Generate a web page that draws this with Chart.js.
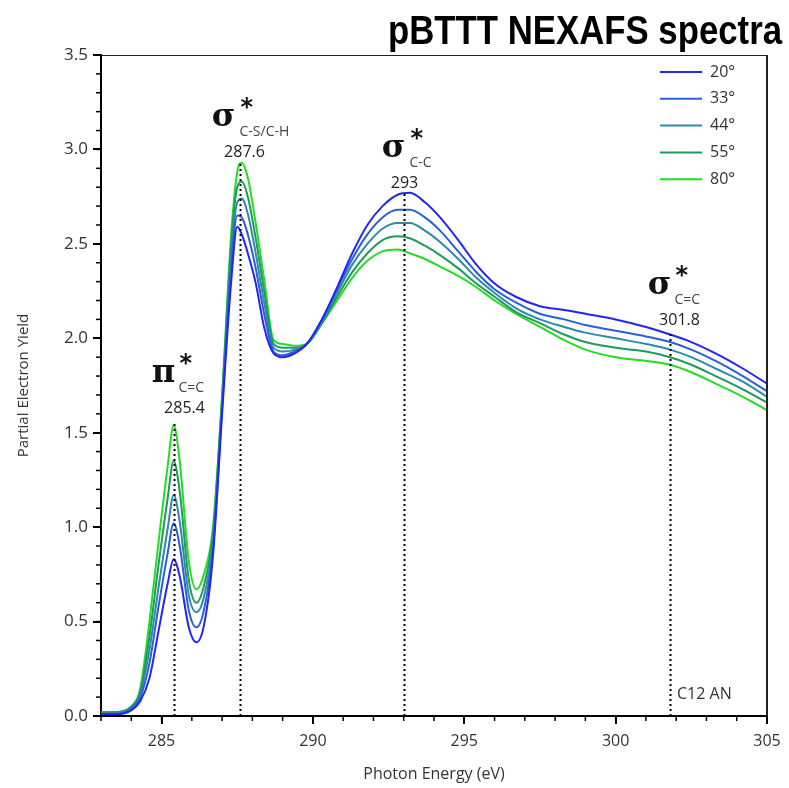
<!DOCTYPE html>
<html>
<head>
<meta charset="utf-8">
<script src="https://cdn.jsdelivr.net/npm/chart.js@4.4.1/dist/chart.umd.min.js"></script>
<style>
  html, body { margin: 0; padding: 0; background: #fff; }
  #wrap { width: 789px; height: 788px; }
</style>
</head>
<body>
<div id="wrap"><canvas id="chart" width="789" height="788"></canvas></div>
<script>
// photon energy (eV)
const energy = [283.0, 283.5, 284.0, 284.3, 284.6, 284.9, 285.2, 285.4, 285.6, 285.9,
  286.15, 286.4, 286.7, 287.0, 287.3, 287.5, 287.65, 287.85, 288.1, 288.4,
  288.7, 289.0, 289.4, 289.8, 290.3, 290.8, 291.3, 291.8, 292.3, 292.8,
  293.2, 293.7, 294.2, 294.8, 295.4, 296.0, 296.7, 297.5, 298.3, 299.0,
  300.0, 301.0, 301.8, 302.5, 303.3, 304.2, 305.0];

const pey20 = [0.01, 0.01, 0.03, 0.08, 0.20, 0.45, 0.70, 0.83, 0.74, 0.47,
  0.39, 0.48, 0.85, 1.60, 2.30, 2.59, 2.55, 2.45, 2.30, 2.05,
  1.92, 1.90, 1.92, 1.97, 2.10, 2.27, 2.45, 2.60, 2.70, 2.76,
  2.77, 2.72, 2.64, 2.52, 2.39, 2.29, 2.22, 2.17, 2.15, 2.13,
  2.10, 2.06, 2.02, 1.98, 1.92, 1.84, 1.76];

const pey33 = [0.01, 0.01, 0.04, 0.10, 0.28, 0.58, 0.86, 1.02, 0.90, 0.56,
  0.47, 0.56, 0.89, 1.63, 2.38, 2.65, 2.64, 2.55, 2.38, 2.12,
  1.93, 1.91, 1.93, 1.97, 2.10, 2.26, 2.42, 2.55, 2.64, 2.68,
  2.68, 2.64, 2.57, 2.46, 2.35, 2.26, 2.19, 2.13, 2.10, 2.07,
  2.04, 2.01, 1.98, 1.94, 1.88, 1.80, 1.72];

const pey44 = [0.01, 0.02, 0.04, 0.12, 0.35, 0.68, 0.99, 1.17, 1.03, 0.64,
  0.55, 0.63, 0.93, 1.65, 2.44, 2.72, 2.74, 2.66, 2.46, 2.18,
  1.95, 1.93, 1.94, 1.97, 2.09, 2.24, 2.39, 2.50, 2.58, 2.61,
  2.61, 2.57, 2.51, 2.42, 2.32, 2.24, 2.16, 2.10, 2.06, 2.03,
  2.00, 1.97, 1.94, 1.90, 1.84, 1.77, 1.69];

const pey55 = [0.02, 0.02, 0.05, 0.13, 0.42, 0.80, 1.15, 1.35, 1.19, 0.72,
  0.60, 0.69, 0.97, 1.68, 2.50, 2.80, 2.83, 2.75, 2.54, 2.24,
  1.97, 1.95, 1.95, 1.97, 2.08, 2.22, 2.35, 2.45, 2.52, 2.54,
  2.53, 2.49, 2.44, 2.37, 2.29, 2.22, 2.14, 2.08, 2.02, 1.98,
  1.95, 1.93, 1.90, 1.86, 1.80, 1.73, 1.66];

const pey80 = [0.02, 0.02, 0.05, 0.15, 0.50, 0.92, 1.32, 1.54, 1.35, 0.82,
  0.67, 0.75, 1.00, 1.70, 2.55, 2.88, 2.93, 2.85, 2.62, 2.30,
  1.99, 1.97, 1.96, 1.97, 2.08, 2.20, 2.32, 2.41, 2.46, 2.47,
  2.45, 2.42, 2.38, 2.33, 2.27, 2.20, 2.13, 2.06, 1.99, 1.94,
  1.90, 1.88, 1.86, 1.82, 1.76, 1.69, 1.62];

const angleLabels = ['20°', '33°', '44°', '55°', '80°'];
const angleColors = ['#2424f4', '#2a5fd6', '#2f8aa6', '#1f9a5c', '#22dd22'];
const allSeries = [pey20, pey33, pey44, pey55, pey80];

const xTicks = [285, 290, 295, 300, 305];
const yTicks = [0, 0.5, 1.0, 1.5, 2.0, 2.5, 3.0, 3.5];

// resonance markers: energy, top of dotted line, and label texts
const peakEnergy = [285.4, 287.6, 293, 301.8];
const peakTop = [1.55, 2.93, 2.77, 2.02];
const peakGreek = ['π', 'σ', 'σ', 'σ'];
const peakSub = ['C=C', 'C-S/C-H', 'C-C', 'C=C'];
const peakText = ['285.4', '287.6', '293', '301.8'];
// label placement, pixels relative to the marker line
const greekDx = [-11, -17, -11, -11];
const subDx = [4, -1, 5, 4];
const numDx = [10, 4, 0, 9];
const numY = [408, 152, 183, 320];

const tickFont = { family: 'Open Sans', size: 16 };
const textColor = '#333';

const decor = {
  id: 'decor',
  afterDraw(chart) {
    const ctx = chart.ctx;
    const a = chart.chartArea;
    const xs = chart.scales.x, ys = chart.scales.y;
    ctx.save();

    // top and right frame
    ctx.strokeStyle = '#222';
    ctx.lineWidth = 1;
    ctx.beginPath();
    ctx.moveTo(a.left, a.top + 0.5);
    ctx.lineTo(a.right, a.top + 0.5);
    ctx.stroke();
    ctx.lineWidth = 2;
    ctx.beginPath();
    ctx.moveTo(a.right, a.top);
    ctx.lineTo(a.right, a.bottom);
    ctx.stroke();

    // minor ticks
    ctx.strokeStyle = '#000';
    ctx.lineWidth = 1.5;
    for (let v = 283; v <= 305; v++) {
      const px = xs.getPixelForValue(v);
      ctx.beginPath();
      ctx.moveTo(px, a.bottom);
      ctx.lineTo(px, a.bottom + 5);
      ctx.stroke();
    }
    for (let i = 0; i <= 35; i++) {
      const py = ys.getPixelForValue(i / 10);
      ctx.beginPath();
      ctx.moveTo(a.left, py);
      ctx.lineTo(a.left - 5, py);
      ctx.stroke();
    }

    // dotted marker lines and labels
    peakEnergy.forEach((e, i) => {
      const px = Math.round(xs.getPixelForValue(e)) + 0.5;
      ctx.strokeStyle = '#000';
      ctx.lineWidth = 2;
      ctx.setLineDash([2, 3]);
      ctx.beginPath();
      ctx.moveTo(px, a.bottom);
      ctx.lineTo(px, ys.getPixelForValue(peakTop[i]));
      ctx.stroke();
      ctx.setLineDash([]);

      const ny = numY[i];
      ctx.fillStyle = '#222';
      ctx.textAlign = 'center';
      ctx.textBaseline = 'middle';
      ctx.font = '16px "Open Sans"';
      ctx.fillText(peakText[i], px + numDx[i], ny);

      ctx.fillStyle = '#111';
      ctx.font = 'bold 32px "DejaVu Serif"';
      ctx.fillText(peakGreek[i], px + greekDx[i], ny - 34);
      ctx.font = 'bold 24px "DejaVu Sans"';
      ctx.textAlign = 'left';
      ctx.fillText('*', px + subDx[i] + 1, ny - 43);
      ctx.fillStyle = '#444';
      ctx.font = '14px "Open Sans"';
      ctx.fillText(peakSub[i], px + subDx[i], ny - 20);
    });

    // legend
    ctx.textAlign = 'left';
    ctx.textBaseline = 'middle';
    ctx.font = '16px "Open Sans"';
    angleLabels.forEach((lab, i) => {
      const y = 72 + i * 26.8;
      ctx.strokeStyle = angleColors[i];
      ctx.lineWidth = 2;
      ctx.beginPath();
      ctx.moveTo(660, y);
      ctx.lineTo(702, y);
      ctx.stroke();
      ctx.fillStyle = textColor;
      ctx.fillText(lab, 710, y);
    });

    ctx.fillStyle = textColor;
    ctx.fillText('C12 AN', 677, 694);

    // title: condensed bold sans, squeezed to the reference width
    const title = 'pBTTT NEXAFS spectra';
    ctx.fillStyle = '#000';
    ctx.textAlign = 'left';
    ctx.textBaseline = 'alphabetic';
    ctx.font = 'bold 40px "Liberation Sans"';
    const w = ctx.measureText(title).width;
    const sx = 394 / w;
    ctx.translate(388, 44);
    ctx.scale(sx, 1);
    ctx.fillText(title, 0, 0);

    ctx.restore();
  }
};

new Chart(document.getElementById('chart'), {
  type: 'line',
  data: {
    datasets: allSeries.map((s, i) => ({
      label: angleLabels[i],
      data: energy.map((e, j) => ({ x: e, y: s[j] })),
      borderColor: angleColors[i],
      borderWidth: 2,
      pointRadius: 0,
      fill: false,
      cubicInterpolationMode: 'monotone'
    }))
  },
  options: {
    responsive: false,
    animation: false,
    layout: { padding: { top: 55, right: 22, left: 0, bottom: 0 } },
    plugins: {
      legend: { display: false },
      tooltip: { enabled: false }
    },
    scales: {
      x: {
        type: 'linear',
        min: 283,
        max: 305,
        afterBuildTicks: s => { s.ticks = xTicks.map(v => ({ value: v })); },
        afterFit: s => { s.height = 72; },
        ticks: { font: tickFont, color: textColor, padding: 8, maxRotation: 0, autoSkip: false },
        grid: { drawOnChartArea: false, drawTicks: true, tickLength: 8, color: '#000', lineWidth: 2 },
        border: { display: true, color: '#000', width: 2 },
        title: { display: true, text: 'Photon Energy (eV)', font: tickFont, color: textColor, padding: { top: 0, bottom: 4 } }
      },
      y: {
        min: 0,
        max: 3.5,
        afterBuildTicks: s => { s.ticks = yTicks.map(v => ({ value: v })); },
        afterFit: s => { s.width = 101; },
        ticks: { font: { family: 'Open Sans', size: 17 }, color: textColor, padding: 5, callback: v => v.toFixed(1) },
        grid: { drawOnChartArea: false, drawTicks: true, tickLength: 8, color: '#000', lineWidth: 2 },
        border: { display: true, color: '#000', width: 2 },
        title: { display: true, text: 'Partial Electron Yield', font: { family: 'Open Sans', size: 15 }, color: textColor, padding: { top: 15, bottom: 0 } }
      }
    }
  },
  plugins: [decor]
});
</script>
</body>
</html>
